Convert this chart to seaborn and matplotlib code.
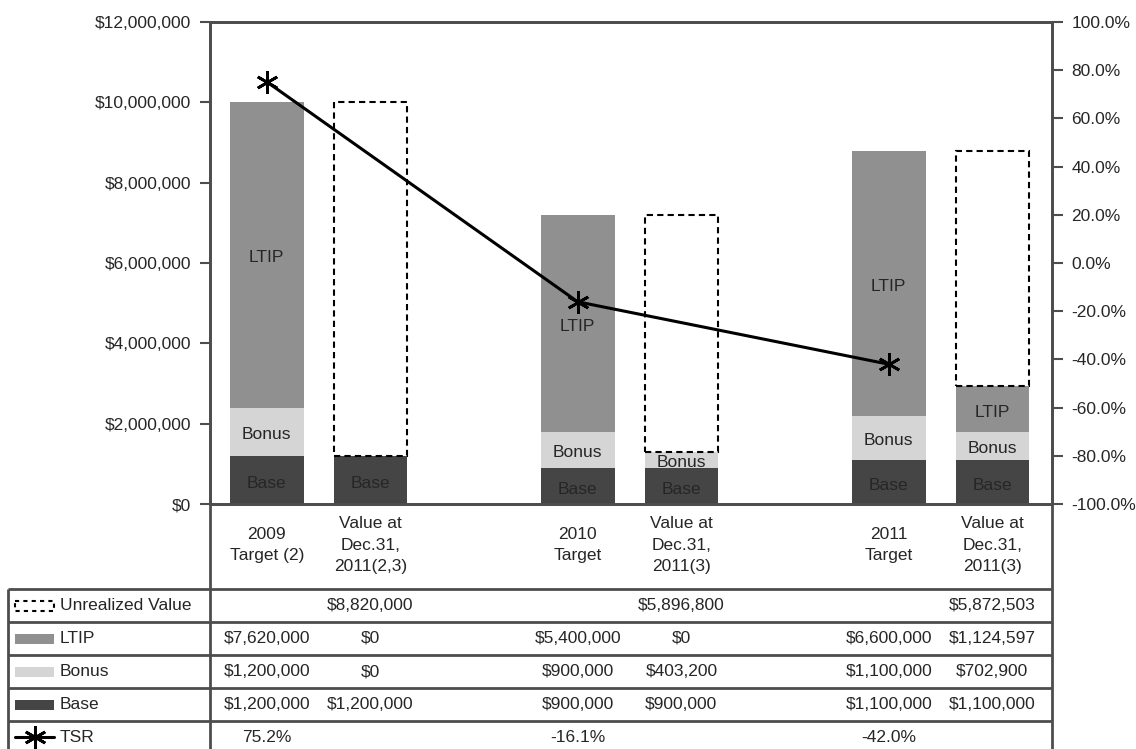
import numpy as np
import pandas as pd
import matplotlib
matplotlib.use('Agg')
import matplotlib.pyplot as plt
import seaborn as sns
from matplotlib.patches import Rectangle
from matplotlib.ticker import FuncFormatter

# data
columns = ['2009 Target', '2009 Value', '2010 Target', '2010 Value', '2011 Target', '2011 Value']
column_labels = ['2009\nTarget (2)', 'Value at\nDec.31,\n2011(2,3)', '2010\nTarget',
                 'Value at\nDec.31,\n2011(3)', '2011\nTarget', 'Value at\nDec.31,\n2011(3)']
base = [1200000, 1200000, 900000, 900000, 1100000, 1100000]
bonus = [1200000, 0, 900000, 403200, 1100000, 702900]
ltip = [7620000, 0, 5400000, 0, 6600000, 1124597]
unrealized = [np.nan, 8820000, np.nan, 5896800, np.nan, 5872503]
tsr = [75.2, np.nan, -16.1, np.nan, -42.0, np.nan]

left_ticks = np.arange(0, 12000001, 2000000)
right_ticks = np.arange(-100, 101, 20)

# empty slots make the gaps between the years
order = ['2009 Target', '2009 Value', 'gap1', '2010 Target', '2010 Value', 'gap2',
         '2011 Target', '2011 Value']

LTIP_C = '#909090'
BONUS_C = '#d5d5d5'
BASE_C = '#454545'
LINE_C = '#4d4d4d'
TEXT_C = '#262626'
FS = 12.5

df = pd.DataFrame({'col': columns, 'base': base, 'bonus': bonus, 'ltip': ltip,
                   'unrealized': unrealized, 'tsr': tsr})
df['bb'] = df['base'] + df['bonus']
df['realized'] = df['bb'] + df['ltip']
df['pos'] = [order.index(c) for c in df['col']]

sns.set_style('white')
plt.rcParams['font.family'] = ['Liberation Sans', 'DejaVu Sans']

W, H = 1136, 749
x0, x1, ytop, yzero = 210, 1052, 22, 504
fig = plt.figure(figsize=(W / 100, H / 100), dpi=100)
ax = fig.add_axes([x0 / W, 1 - yzero / H, (x1 - x0) / W, (yzero - ytop) / H])

# stacked bars: draw cumulative totals from the top down
for name, color in [('realized', LTIP_C), ('bb', BONUS_C), ('base', BASE_C)]:
    sns.barplot(data=df, x='col', y=name, order=order, color=color, saturation=1,
                width=0.71, linewidth=0, errorbar=None, ax=ax)

dash = df.dropna(subset=['unrealized'])
sns.barplot(data=dash, x='col', y='unrealized', order=order, fill=False, color='black',
            width=0.71, linewidth=1.5, linestyle=(0, (3, 2)),
            bottom=dash['realized'].to_numpy(), errorbar=None, ax=ax)

for _, r in df.iterrows():
    kw = dict(ha='center', va='center', fontsize=FS, color=TEXT_C)
    if r['ltip'] > 0:
        ax.text(r['pos'], r['bb'] + r['ltip'] / 2 - 80000, 'LTIP', **kw)
    if r['bonus'] > 0:
        ax.text(r['pos'], r['base'] + r['bonus'] / 2 - 80000, 'Bonus', **kw)
    ax.text(r['pos'], r['base'] / 2 - 80000, 'Base', **kw)

ax2 = ax.twinx()
tsr_df = df.dropna(subset=['tsr'])
sns.lineplot(data=tsr_df, x='pos', y='tsr', ax=ax2, color='black', linewidth=2.2,
             marker=(6, 2, 0), markersize=16, markeredgewidth=2, markeredgecolor='black')

ax.set_xlim(-0.547, 7.575)
ax.set_ylim(0, 12000000)
ax.set_yticks(left_ticks)
ax.yaxis.set_major_formatter(FuncFormatter(lambda v, p: f'${v:,.0f}'))
ax.set_xticks([])
ax.set_xlabel('')
ax.set_ylabel('')
ax2.set_ylim(-100, 100)
ax2.set_yticks(right_ticks)
ax2.yaxis.set_major_formatter(FuncFormatter(lambda v, p: f'{v:.1f}%'))
ax2.set_xlabel('')
ax2.set_ylabel('')

for a in (ax, ax2):
    for s in a.spines.values():
        s.set_color(LINE_C)
        s.set_linewidth(2)
ax.tick_params(axis='y', length=7, width=1.5, color=LINE_C, pad=6.5,
               labelsize=FS, labelcolor=TEXT_C)
ax2.tick_params(axis='y', length=8, width=1.5, color=LINE_C, pad=6,
                labelsize=FS, labelcolor=TEXT_C)

# table under the chart, in pixel coordinates
tab = fig.add_axes([0, 0, 1, 1 - yzero / H])
tab.set_xlim(0, W)
tab.set_ylim(H, yzero)
tab.axis('off')

col_px = [ax.transData.transform((p, 0))[0] for p in df['pos']]

for xp, lab in zip(col_px, column_labels):
    tab.text(xp, 545, lab, ha='center', va='center', fontsize=FS, color=TEXT_C,
             linespacing=1.5)

row_lines = [589, 622, 655, 688, 721]
row_mid = [605.5, 638.5, 671.5, 704.5, 737]
lk = dict(color=LINE_C, lw=2, solid_capstyle='butt')
tab.plot([x0, x0], [yzero, H], **lk)
tab.plot([x1, x1], [yzero, H], **lk)
tab.plot([8, 8], [row_lines[0], H], **lk)
for y in row_lines:
    tab.plot([8, x1], [y, y], **lk)

row_names = ['Unrealized Value', 'LTIP', 'Bonus', 'Base', 'TSR']
for name, cy in zip(row_names, row_mid):
    tab.text(60, cy, name, ha='left', va='center', fontsize=FS, color=TEXT_C)

cy = row_mid
tab.add_patch(Rectangle((15, cy[0] - 5), 39, 10, fill=False, edgecolor='black',
                        lw=1.5, linestyle=(0, (2, 2))))
tab.add_patch(Rectangle((15, cy[1] - 5), 39, 10, color=LTIP_C, lw=0))
tab.add_patch(Rectangle((15, cy[2] - 5), 39, 10, color=BONUS_C, lw=0))
tab.add_patch(Rectangle((15, cy[3] - 5), 39, 10, color=BASE_C, lw=0))
tab.plot([15, 54], [cy[4], cy[4]], color='black', lw=2.2)
tab.plot([34.5], [cy[4]], color='black', marker=(6, 2, 0), markersize=16, markeredgewidth=2)

def money(v):
    return f'${v:,.0f}'

rows = [df['unrealized'], df['ltip'], df['bonus'], df['base']]
for vals, cyy in zip(rows, row_mid[:4]):
    for xp, v in zip(col_px, vals):
        if not np.isnan(v):
            tab.text(xp, cyy, money(v), ha='center', va='center', fontsize=FS, color=TEXT_C)
for xp, v in zip(col_px, df['tsr']):
    if not np.isnan(v):
        tab.text(xp, row_mid[4], f'{v:.1f}%', ha='center', va='center', fontsize=FS,
                 color=TEXT_C)

fig.savefig('out.png', dpi=100)
plt.close(fig)
